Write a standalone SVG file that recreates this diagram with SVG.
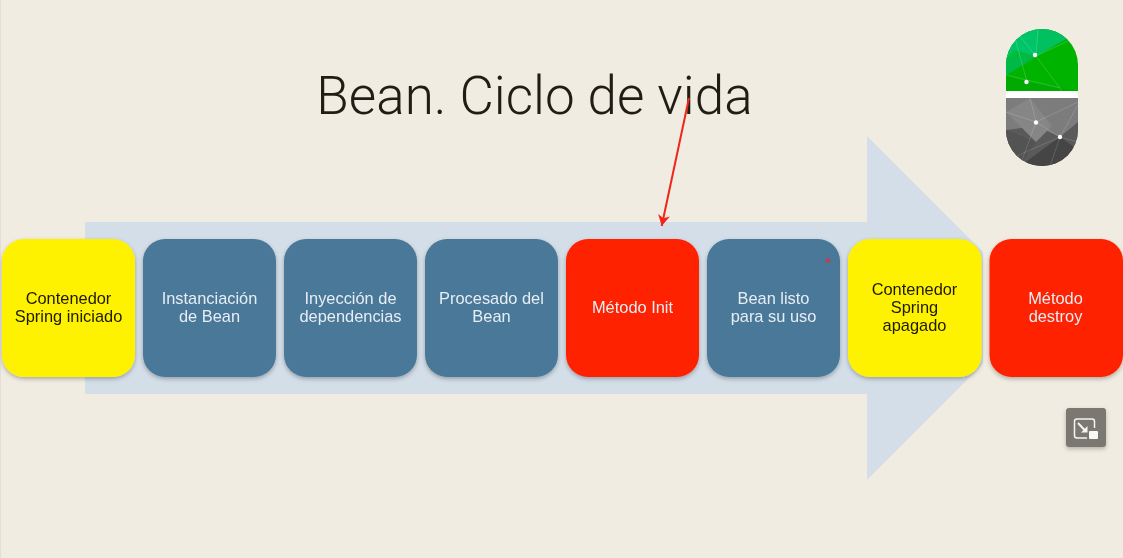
<svg xmlns="http://www.w3.org/2000/svg" width="1123" height="558" viewBox="0 0 1123 558">
<style>
text{font-family:"Liberation Sans",Arial,sans-serif;text-anchor:middle}
.l{font-size:16.4px}
.w{fill:#e6eef4}
.k{fill:#1c1a00}
.b{fill:#4a7899}.y{fill:#fff200}.r{fill:#ff2000}
.box{filter:url(#s)}
</style>
<defs>
<filter id="s" x="-10%" y="-10%" width="120%" height="125%"><feDropShadow dx="0" dy="2" stdDeviation="2" flood-color="#000" flood-opacity=".28"/></filter>
<filter id="s2" x="-20%" y="-20%" width="140%" height="150%"><feDropShadow dx="0" dy="2" stdDeviation="2" flood-color="#000" flood-opacity=".25"/></filter>
<filter id="soft" x="-5%" y="-5%" width="110%" height="110%"><feGaussianBlur stdDeviation=".5"/></filter>
<clipPath id="top"><path d="M1006 91V65a36 36 0 0 1 72 0V91Z"/></clipPath>
<clipPath id="bot"><path d="M1006 98H1078V130a36 36 0 0 1-72 0Z"/></clipPath>
<marker id="ah" viewBox="0 0 12 14" refX="11" refY="7" markerWidth="12" markerHeight="14" markerUnits="userSpaceOnUse" orient="auto"><path d="M0 1 11 7 0 13 3 7Z" fill="#f0261a"/></marker>
</defs>
<rect width="1123" height="558" fill="#f0ece1"/>
<path d="M0 0V558" stroke="#e3dfd4" stroke-width="2"/>
<path id="flow-arrow" d="M85 222H867V136L983 252V364L867 480V394H85Z" fill="#d3dee8"/>
<text x="534.500" y="114" style="font-family:Roboto,'Liberation Sans',sans-serif;font-weight:300;font-size:53px" fill="#1f1d14">Bean. Ciclo de vida</text>
<g id="logo" filter="url(#soft)">
<g clip-path="url(#top)">
<rect x="1006" y="29" width="72" height="62" fill="#00b300"/>
<path d="M1006 75 1067 38 1060 29H1006Z" fill="#00bc3c"/>
<path d="M1006 29H1040L1036 56 1014 50 1006 60Z" fill="#00c468"/>
<path d="M1036 56 1040 29H1062L1068 38Z" fill="#00c060"/>
<path d="M1006 60 1036 56 1006 75Z" fill="#00b84a"/>
<path d="M1006 75 1026 82 1078 91H1006Z" fill="#00aa00"/>
<g stroke="#fff" stroke-opacity=".25" fill="none" stroke-width=".7"><path d="M1036 56 1014 29M1036 56 1038 29M1036 56 1068 41M1015 38 1027 82M1036 56 1062 91M1006 75 1060 88"/></g>
</g>
<rect x="1006" y="91" width="72" height="7" fill="#fff"/>
<g clip-path="url(#bot)">
<rect x="1006" y="98" width="72" height="68" fill="#7c7c7c"/>
<path d="M1006 130 1036 126 1060 137 1078 122V166H1006Z" fill="#5a5a5a"/>
<path d="M1030 98 1052 126 1036 142 1006 112Z" fill="#868686"/>
<path d="M1020 166 1060 137 1078 150V166Z" fill="#444"/>
<path d="M1006 130 1036 142 1020 166H1006Z" fill="#525252"/>
<g stroke="#fff" stroke-opacity=".22" fill="none" stroke-width=".7"><path d="M1036 122 1078 102M1036 122 1060 137 1078 142M1036 122 1030 98M1036 122 1022 160M1060 137 1012 158M1060 137 1050 166M1060 137 1078 105M1006 112 1036 122"/></g>
</g>
<g fill="#fff"><circle cx="1035" cy="55" r="2.200"/><circle cx="1026.500" cy="82" r="2.200"/><circle cx="1036" cy="122.500" r="2.200"/><circle cx="1060" cy="137" r="2.200"/></g>
</g>
<g id="n1" class="box"><rect class="y" x="2" y="239" width="133" height="138" rx="22"/><text class="l k" x="68.500" y="304">Contenedor</text><text class="l k" x="68.500" y="322">Spring iniciado</text></g>
<g id="n2" class="box"><rect class="b" x="143" y="239" width="133" height="138" rx="22"/><text class="l w" x="209.500" y="304">Instanciación</text><text class="l w" x="209.500" y="322">de Bean</text></g>
<g id="n3" class="box"><rect class="b" x="284" y="239" width="133" height="138" rx="22"/><text class="l w" x="350.500" y="304">Inyección de</text><text class="l w" x="350.500" y="322">dependencias</text></g>
<g id="n4" class="box"><rect class="b" x="425" y="239" width="133" height="138" rx="22"/><text class="l w" x="491.500" y="304">Procesado del</text><text class="l w" x="491.500" y="322">Bean</text></g>
<g id="n5" class="box"><rect class="r" x="566" y="239" width="133" height="138" rx="22"/><text class="l w" x="632.500" y="313">Método Init</text></g>
<g id="n6" class="box"><rect class="b" x="707" y="239" width="133" height="138" rx="22"/><text class="l w" x="773.500" y="304">Bean listo</text><text class="l w" x="773.500" y="322">para su uso</text></g>
<g id="n7" class="box"><rect class="y" x="848" y="239" width="133.500" height="138" rx="22"/><text class="l k" x="914.500" y="295">Contenedor</text><text class="l k" x="914.500" y="313">Spring</text><text class="l k" x="914.500" y="331">apagado</text></g>
<g id="n8" class="box"><rect class="r" x="989.500" y="239" width="133.500" height="138" rx="22"/><text class="l w" x="1055.500" y="304">Método</text><text class="l w" x="1055.500" y="322">destroy</text></g>
<g id="connectors">
<path d="M689 98 661.700 226" stroke="#f0261a" stroke-width="2" fill="none" marker-end="url(#ah)"/>
</g>
<path d="M825.500 260.500h5M828 258v5" stroke="#e0303a" stroke-width="1.400"/>
<g id="pip-button">
<rect x="1066" y="408" width="40" height="39" rx="3" fill="#7a7870" filter="url(#s2)"/>
<path d="M1094.500 428V421.500a2.500 2.500 0 0 0-2.500-2.500H1077a2.500 2.500 0 0 0-2.500 2.500V435.500a2.500 2.500 0 0 0 2.500 2.500H1087" fill="none" stroke="#f4f4f0" stroke-width="1.500"/>
<path d="M1078 423 1085 430.500" stroke="#f4f4f0" stroke-width="2"/>
<path d="M1081 432.500H1087.500V426Z" fill="#f4f4f0"/>
<rect x="1089" y="431" width="9" height="8" rx="1" fill="#f8f8f4"/>
</g>
</svg>
